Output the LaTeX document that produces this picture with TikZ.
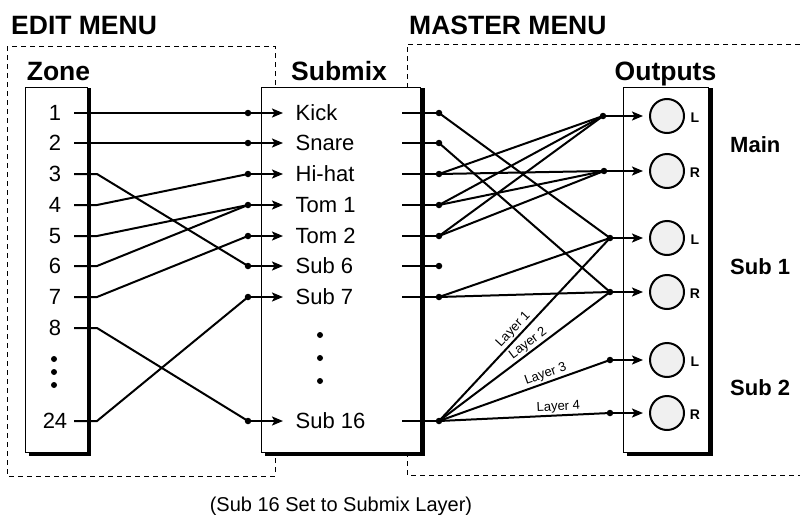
\documentclass[tikz,border=0pt]{standalone}
\usepackage{fontspec}
\setmainfont{Liberation Sans}
\usetikzlibrary{arrows.meta}
\begin{document}
\begin{tikzpicture}[x=1pt,y=-1pt,
  wire/.style={line width=2pt},
  arrw/.style={line width=2pt,-{Stealth[length=11pt,width=9pt,inset=2.5pt]}},
  menu/.style={line width=0.9pt,dash pattern=on 5pt off 4pt},
  panel/.style={draw,line width=1pt,fill=white},
  title/.style={font=\fontsize{26.5}{30}\selectfont\bfseries,inner sep=0pt,anchor=west,text height=19pt,text depth=0pt},
  head/.style={font=\fontsize{26.5}{30}\selectfont\bfseries,inner sep=0pt,text height=19pt,text depth=0pt},
  lbl/.style={font=\fontsize{22}{26}\selectfont,inner sep=0pt,text height=15.8pt,text depth=0pt},
  grp/.style={font=\fontsize{22}{26}\selectfont\bfseries,inner sep=0pt,anchor=west,text height=15.8pt,text depth=0pt},
  lr/.style={font=\fontsize{14}{16}\selectfont\bfseries,inner sep=0pt,text height=10pt,text depth=0pt},
  layer/.style={font=\fontsize{13}{15}\selectfont,sloped,above,inner sep=1.2pt},
  jack/.style={circle,draw,line width=2pt,fill=black!6,minimum size=34pt,inner sep=0pt},
  dotn/.style={circle,fill=black,inner sep=0pt,minimum size=6.5pt},
  vdot/.style={circle,fill=black,inner sep=0pt,minimum size=6pt},
]
\useasboundingbox (0,0) rectangle (800,514);

% menu frames
\draw[menu] (7,46) rectangle (275,476);
\draw[menu] (800,44) -- (407,44) -- (407,475) -- (800,475);

% titles
\node[title] (tEdit) at (11,25) {EDIT MENU};
\node[title] (tMaster) at (409,25) {MASTER MENU};
\node[head] (hZone) at (58.5,71) {Zone};
\node[head] (hSub) at (339,71) {Submix};
\node[head] (hOut) at (665.5,71) {Outputs};

% panels with shadows
\fill (29,88) rectangle (91,456);
\draw[panel] (25,87) rectangle (87,452);
\fill (265,88) rectangle (424.5,456);
\draw[panel] (261,87) rectangle (420,452);
\fill (627,88) rectangle (712.5,456);
\draw[panel] (623,87) rectangle (708,452);

% zone labels
\node[lbl] (z1) at (55,113) {1};
\node[lbl] (z2) at (55,143) {2};
\node[lbl] (z3) at (55,174) {3};
\node[lbl] (z4) at (55,205) {4};
\node[lbl] (z5) at (55,236) {5};
\node[lbl] (z6) at (55,266) {6};
\node[lbl] (z7) at (55,297) {7};
\node[lbl] (z8) at (55,328) {8};
\node[lbl] (z24) at (55,421) {24};
\node[vdot] (zv1) at (54,359) {};
\node[vdot] (zv2) at (54,372) {};
\node[vdot] (zv3) at (54,385) {};

% zone stub starts and bends
\coordinate (zs1) at (74,113);
\coordinate (zs2) at (74,143);
\coordinate (zs3) at (74,174); \coordinate (zb3) at (97,174);
\coordinate (zs4) at (74,205); \coordinate (zb4) at (97,205);
\coordinate (zs5) at (74,236); \coordinate (zb5) at (97,236);
\coordinate (zs6) at (74,266); \coordinate (zb6) at (97,266);
\coordinate (zs7) at (74,297); \coordinate (zb7) at (97,297);
\coordinate (zs8) at (74,328); \coordinate (zb8) at (97,328);
\coordinate (zs24) at (74,421); \coordinate (zb24) at (97,421);

% submix input dots and arrow tips
\node[dotn] (iKick) at (248,113) {};
\node[dotn] (iSnare) at (248,143) {};
\node[dotn] (iHihat) at (248,174) {};
\node[dotn] (iTom1) at (248,205) {};
\node[dotn] (iTom2) at (248,236) {};
\node[dotn] (iSub6) at (248,266) {};
\node[dotn] (iSub7) at (248,297) {};
\node[dotn] (iSub16) at (248,421) {};
\coordinate (aKick) at (283,113);
\coordinate (aSnare) at (283,143);
\coordinate (aHihat) at (283,174);
\coordinate (aTom1) at (283,205);
\coordinate (aTom2) at (283,236);
\coordinate (aSub6) at (283,266);
\coordinate (aSub7) at (283,297);
\coordinate (aSub16) at (283,421);

% submix labels
\node[lbl,anchor=west] (nKick) at (295.5,113) {Kick};
\node[lbl,anchor=west] (nSnare) at (295.5,143) {Snare};
\node[lbl,anchor=west] (nHihat) at (295.5,174) {Hi-hat};
\node[lbl,anchor=west] (nTom1) at (295.5,205) {Tom 1};
\node[lbl,anchor=west] (nTom2) at (295.5,236) {Tom 2};
\node[lbl,anchor=west] (nSub6) at (295.5,266) {Sub 6};
\node[lbl,anchor=west] (nSub7) at (295.5,297) {Sub 7};
\node[lbl,anchor=west] (nSub16) at (295.5,421) {Sub 16};
\node[vdot] (sv1) at (320,335) {};
\node[vdot] (sv2) at (320,358) {};
\node[vdot] (sv3) at (320,381) {};

% submix output stubs and dots
\coordinate (oKick) at (402,113);
\coordinate (oSnare) at (402,143);
\coordinate (oHihat) at (402,174);
\coordinate (oTom1) at (402,205);
\coordinate (oTom2) at (402,236);
\coordinate (oSub6) at (402,266);
\coordinate (oSub7) at (402,297);
\coordinate (oSub16) at (402,421);
\node[dotn] (dKick) at (439,113) {};
\node[dotn] (dSnare) at (439,143) {};
\node[dotn] (dHihat) at (439,174) {};
\node[dotn] (dTom1) at (439,205) {};
\node[dotn] (dTom2) at (439,236) {};
\node[dotn] (dSub6) at (439,266) {};
\node[dotn] (dSub7) at (439,297) {};
\node[dotn] (dSub16) at (439,421) {};

% output dots, tips, jacks
\node[dotn] (mL) at (603,116) {};
\node[dotn] (mR) at (604,171) {};
\node[dotn] (s1L) at (610,238) {};
\node[dotn] (s1R) at (610,292) {};
\node[dotn] (s2L) at (610,360) {};
\node[dotn] (s2R) at (610,413) {};
\coordinate (tmL) at (643,116);
\coordinate (tmR) at (643,171);
\coordinate (ts1L) at (643,238);
\coordinate (ts1R) at (643,292);
\coordinate (ts2L) at (643,360);
\coordinate (ts2R) at (643,413);
\node[jack] (cmL) at (667,116) {};
\node[jack] (cmR) at (667,171) {};
\node[jack] (cs1L) at (667,238) {};
\node[jack] (cs1R) at (667,292) {};
\node[jack] (cs2L) at (667,360) {};
\node[jack] (cs2R) at (667,413) {};
\node[lr] (lmL) at (695,117) {L};
\node[lr] (lmR) at (695,172) {R};
\node[lr] (ls1L) at (695,239) {L};
\node[lr] (ls1R) at (695,293) {R};
\node[lr] (ls2L) at (695,361) {L};
\node[lr] (ls2R) at (695,414) {R};
\node[grp] (gMain) at (730,145) {Main};
\node[grp] (gSub1) at (730,267) {Sub 1};
\node[grp] (gSub2) at (730,388) {Sub 2};

% zone -> submix wires
\draw[wire] (zs1) -- (iKick.center);
\draw[wire] (zs2) -- (iSnare.center);
\draw[wire] (zs3) -- (zb3) -- (iSub6.center);
\draw[wire] (zs4) -- (zb4) -- (iHihat.center);
\draw[wire] (zs5) -- (zb5) -- (iTom1.center);
\draw[wire] (zs6) -- (zb6) -- (iTom1.center);
\draw[wire] (zs7) -- (zb7) -- (iTom2.center);
\draw[wire] (zs8) -- (zb8) -- (iSub16.center);
\draw[wire] (zs24) -- (zb24) -- (iSub7.center);

% submix arrows
\draw[arrw] (iKick.center) -- (aKick);
\draw[arrw] (iSnare.center) -- (aSnare);
\draw[arrw] (iHihat.center) -- (aHihat);
\draw[arrw] (iTom1.center) -- (aTom1);
\draw[arrw] (iTom2.center) -- (aTom2);
\draw[arrw] (iSub6.center) -- (aSub6);
\draw[arrw] (iSub7.center) -- (aSub7);
\draw[arrw] (iSub16.center) -- (aSub16);

% submix output stubs
\draw[wire] (oKick) -- (dKick.center);
\draw[wire] (oSnare) -- (dSnare.center);
\draw[wire] (oHihat) -- (dHihat.center);
\draw[wire] (oTom1) -- (dTom1.center);
\draw[wire] (oTom2) -- (dTom2.center);
\draw[wire] (oSub6) -- (dSub6.center);
\draw[wire] (oSub7) -- (dSub7.center);
\draw[wire] (oSub16) -- (dSub16.center);

% submix -> outputs wires
\draw[wire] (dKick.center) -- (s1L.center);
\draw[wire] (dSnare.center) -- (s1R.center);
\draw[wire] (dHihat.center) -- (mL.center);
\draw[wire] (dHihat.center) -- (mR.center);
\draw[wire] (dTom1.center) -- (mL.center);
\draw[wire] (dTom1.center) -- (mR.center);
\draw[wire] (dTom2.center) -- (mL.center);
\draw[wire] (dTom2.center) -- (mR.center);
\draw[wire] (dSub7.center) -- (s1L.center);
\draw[wire] (dSub7.center) -- (s1R.center);
\draw[wire] (dSub16.center) -- node[layer,pos=0.47] {Layer 1} (s1L.center);
\draw[wire] (dSub16.center) -- node[layer,pos=0.55] {Layer 2} (s1R.center);
\draw[wire] (dSub16.center) -- node[layer,pos=0.64] {Layer 3} (s2L.center);
\draw[wire] (dSub16.center) -- node[layer,pos=0.70] {Layer 4} (s2R.center);

% output arrows
\draw[arrw] (mL.center) -- (tmL);
\draw[arrw] (mR.center) -- (tmR);
\draw[arrw] (s1L.center) -- (ts1L);
\draw[arrw] (s1R.center) -- (ts1R);
\draw[arrw] (s2L.center) -- (ts2L);
\draw[arrw] (s2R.center) -- (ts2R);

% caption
\node[font=\fontsize{20}{24}\selectfont,inner sep=0pt,text height=14.3pt,text depth=0pt] (cap) at (341,504) {(Sub 16 Set to Submix Layer)};
\end{tikzpicture}
\end{document}
